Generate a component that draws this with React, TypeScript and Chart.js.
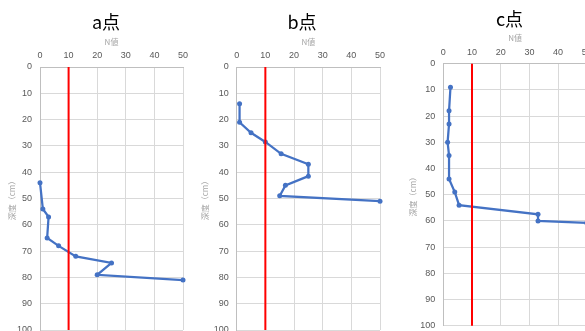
import React, { useEffect, useRef } from "react";
import { Chart, registerables } from "chart.js";

Chart.register(...registerables);

// ---- data ----
const panelTitles = ["a点", "b点", "c点"];
const xAxisTitle = "N値";
const yAxisTitle = "深度（cm）";
const nMin = 0;
const nMax = 50;
const nStep = 10;
const depthMin = 0;
const depthMax = 100;
const depthStep = 10;
const thresholdN = 10;

const aN = [0, 1, 3, 2.5, 6.5, 12.5, 25, 20, 50];
const aDepth = [44, 54, 57, 65, 68, 72, 74.5, 79, 81];

const bN = [1, 1, 5, 10, 15.5, 25, 25, 17, 15, 50];
const bDepth = [14, 21, 25, 28.5, 33, 37, 41.5, 45, 49, 51];

const cN = [2.5, 2, 2, 1.5, 2, 2, 4, 5.5, 33, 33, 50];
const cDepth = [9, 18, 23, 30, 35, 44, 49, 54, 57.5, 60, 60.8];

const seriesN = [aN, bN, cN];
const seriesDepth = [aDepth, bDepth, cDepth];

// ---- layout (positions only) ----
const CW = 200;
const CH = 360;
const layouts = [
  { left: 0, plotLeft: 40, plotRight: 183, plotTop: 67, plotBottom: 330, titleX: 106, titleY: 22.5, nTitleY: 42, yTitleX: 12, tickGap: 6 },
  { left: 200, plotLeft: 36.7, plotRight: 180, plotTop: 67, plotBottom: 330, titleX: 102, titleY: 22, nTitleY: 42, yTitleX: 5.4, tickGap: 6 },
  { left: 400, plotLeft: 43.3, plotRight: 186.8, plotTop: 63.7, plotBottom: 325.7, titleX: 109.5, titleY: 19.5, nTitleY: 37.7, yTitleX: 13.3, tickGap: 6 },
];

const SMALL = 9;
const SMALL_LH = SMALL * 1.2;

const titlePlugin = {
  id: "panelTitle",
  afterDraw(chart: any, _args: any, opts: any) {
    const ctx = chart.ctx;
    ctx.save();
    ctx.font = `18px "Noto Sans CJK JP", "Noto Sans", sans-serif`;
    ctx.fillStyle = "#000000";
    ctx.textAlign = "center";
    ctx.textBaseline = "middle";
    ctx.fillText(opts.text, opts.x, opts.y);
    ctx.restore();
  },
};

function Panel({ idx }: { idx: number }) {
  const ref = useRef<HTMLCanvasElement | null>(null);
  useEffect(() => {
    const L = layouts[idx];
    const padLeft = Math.max(L.yTitleX - SMALL_LH / 2, 0);
    const padTop = L.nTitleY - SMALL_LH / 2;
    const padRight = CW - L.plotRight;
    const padBottom = CH - L.plotBottom;
    const yWidth = L.plotLeft - padLeft;
    const xHeight = L.plotTop - padTop;
    const pts = seriesN[idx].map((n, i) => ({ x: n, y: seriesDepth[idx][i] }));
    const chart = new Chart(ref.current as HTMLCanvasElement, {
      type: "scatter",
      data: {
        datasets: [
          {
            data: [
              { x: thresholdN, y: depthMin },
              { x: thresholdN, y: depthMax },
            ],
            showLine: true,
            borderColor: "#FF0000",
            borderWidth: 2,
            pointRadius: 0,
            clip: false as any,
          },
          {
            data: pts,
            showLine: true,
            borderColor: "#4472C4",
            backgroundColor: "#4472C4",
            borderWidth: 2.25,
            pointRadius: 2.5,
            pointBorderWidth: 0,
            clip: false as any,
          },
        ],
      },
      options: {
        animation: false,
        responsive: false,
        devicePixelRatio: 1,
        layout: { padding: { left: padLeft, top: padTop, right: padRight, bottom: padBottom } },
        plugins: {
          legend: { display: false },
          title: { display: false },
          tooltip: { enabled: false },
          panelTitle: { text: panelTitles[idx], x: L.titleX, y: L.titleY },
        } as any,
        scales: {
          x: {
            type: "linear",
            position: "top",
            min: nMin,
            max: nMax,
            ticks: {
              stepSize: nStep,
              padding: L.tickGap,
              color: "#595959",
              font: { size: SMALL, family: '"Liberation Sans", sans-serif' },
            },
            grid: { color: "#d9d9d9", drawTicks: false, lineWidth: 1 },
            border: { color: "#bfbfbf", width: 1 },
            title: {
              display: true,
              text: xAxisTitle,
              color: "#a6a6a6",
              padding: 0,
              font: { size: 8, family: '"Noto Sans CJK JP", sans-serif', lineHeight: SMALL_LH / 8 },
            },
            afterFit(scale: any) {
              scale.height = xHeight;
              scale.paddingLeft = 0;
              scale.paddingRight = 0;
            },
          },
          y: {
            type: "linear",
            reverse: true,
            min: depthMin,
            max: depthMax,
            ticks: {
              stepSize: depthStep,
              padding: 8,
              color: "#595959",
              font: { size: SMALL, family: '"Liberation Sans", sans-serif' },
            },
            grid: { color: "#d9d9d9", drawTicks: false, lineWidth: 1 },
            border: { color: "#bfbfbf", width: 1 },
            title: {
              display: true,
              text: yAxisTitle,
              color: "#a6a6a6",
              padding: 0,
              font: { size: 8, family: '"Noto Sans CJK JP", sans-serif', lineHeight: SMALL_LH / 8 },
            },
            afterFit(scale: any) {
              scale.width = yWidth;
              scale.paddingTop = 0;
              scale.paddingBottom = 0;
            },
          },
        },
      },
      plugins: [titlePlugin],
    } as any);
    return () => chart.destroy();
  }, [idx]);
  const L = layouts[idx];
  return (
    <div style={{ position: "absolute", left: L.left, top: 0, width: CW, height: CH }}>
      <canvas ref={ref} width={CW} height={CH} style={{ display: "block" }} />
    </div>
  );
}

export default function App() {
  return (
    <div
      style={{
        position: "fixed",
        left: 0,
        top: 0,
        width: 585,
        height: 331,
        overflow: "hidden",
        background: "#ffffff",
      }}
    >
      <Panel idx={0} />
      <Panel idx={1} />
      <Panel idx={2} />
    </div>
  );
}
